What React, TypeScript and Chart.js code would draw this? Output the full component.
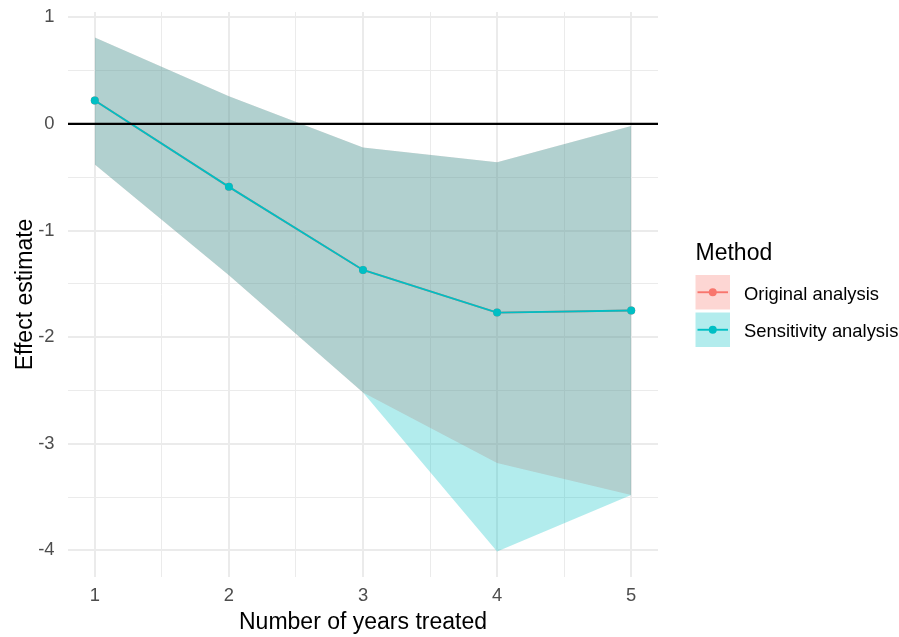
import React, { useEffect, useRef } from "react";
import { Chart, registerables } from "chart.js";

Chart.register(...registerables);

const FONT = "'Liberation Sans', Arial, Helvetica, sans-serif";

// ---- data ----
const years = [1, 2, 3, 4, 5];
const methods = ["Original analysis", "Sensitivity analysis"];
const originalEstimate = [0.22, -0.59, -1.37, -1.77, -1.75];
const originalLower = [-0.38, -1.42, -2.52, -3.18, -3.48];
const originalUpper = [0.81, 0.26, -0.22, -0.36, -0.02];
const sensitivityEstimate = [0.22, -0.59, -1.37, -1.77, -1.75];
const sensitivityLower = [-0.38, -1.42, -2.52, -4.01, -3.48];
const sensitivityUpper = [0.81, 0.26, -0.22, -0.36, -0.02];
const xTicks = [1, 1.5, 2, 2.5, 3, 3.5, 4, 4.5, 5];
const yTicks = [-4, -3.5, -3, -2.5, -2, -1.5, -1, -0.5, 0, 0.5, 1];
const referenceValue = 0;

// ---- styles ----
const lineColors = ["#F8766D", "#00BFC4"];
const ribbonColors = ["rgba(248,118,109,0.3)", "rgba(0,191,196,0.3)"];

const pts = (ys: number[]) => years.map((x, i) => ({ x, y: ys[i] }));

const ribbon = (ys: number[], color: string, fill: any, order: number) => ({
  data: pts(ys),
  borderColor: "transparent",
  borderWidth: 0,
  backgroundColor: color,
  pointRadius: 0,
  pointHoverRadius: 0,
  fill,
  order,
  tension: 0,
});

const lineDs = (ys: number[], color: string, order: number) => ({
  data: pts(ys),
  borderColor: color,
  borderWidth: 1.9,
  backgroundColor: color,
  pointBackgroundColor: color,
  pointBorderWidth: 0,
  pointRadius: 4,
  fill: false,
  order,
  tension: 0,
});

const refLinePlugin = {
  id: "refLine",
  afterDatasetsDraw(chart: any) {
    const { ctx, chartArea, scales } = chart;
    const y = scales.y.getPixelForValue(referenceValue);
    ctx.save();
    ctx.strokeStyle = "#000000";
    ctx.lineWidth = 2.2;
    ctx.beginPath();
    ctx.moveTo(chartArea.left, y);
    ctx.lineTo(chartArea.right, y);
    ctx.stroke();
    ctx.restore();
  },
};

const legendPlugin = {
  id: "methodLegend",
  afterDraw(chart: any) {
    const ctx = chart.ctx;
    const left = 695.5;
    const keySize = 34.5;
    const firstTop = 275;
    const step = 37.5;
    ctx.save();
    ctx.fillStyle = "#000000";
    ctx.font = `23px ${FONT}`;
    ctx.textAlign = "left";
    ctx.textBaseline = "alphabetic";
    ctx.fillText("Method", left, 260);
    methods.forEach((m, i) => {
      const top = firstTop + i * step;
      const cy = top + keySize / 2;
      ctx.fillStyle = ribbonColors[i];
      ctx.fillRect(left, top, keySize, keySize);
      ctx.strokeStyle = lineColors[i];
      ctx.lineWidth = 1.9;
      ctx.beginPath();
      ctx.moveTo(left + 2, cy);
      ctx.lineTo(left + keySize - 2, cy);
      ctx.stroke();
      ctx.fillStyle = lineColors[i];
      ctx.beginPath();
      ctx.arc(left + keySize / 2, cy, 4, 0, Math.PI * 2);
      ctx.fill();
      ctx.fillStyle = "#000000";
      ctx.font = `18.4px ${FONT}`;
      ctx.fillText(m, 744, cy + 7.6);
    });
    ctx.restore();
  },
};

export default function App() {
  const ref = useRef<HTMLCanvasElement | null>(null);
  useEffect(() => {
    if (!ref.current) return;
    Chart.defaults.font.family = FONT;
    const chart = new Chart(ref.current, {
      type: "line",
      data: {
        datasets: [
          ribbon(originalLower, ribbonColors[0], false, 3) as any,
          ribbon(originalUpper, ribbonColors[0], "-1", 3) as any,
          ribbon(sensitivityLower, ribbonColors[1], false, 2) as any,
          ribbon(sensitivityUpper, ribbonColors[1], "-1", 2) as any,
          { ...lineDs(originalEstimate, lineColors[0], 1), label: methods[0] } as any,
          { ...lineDs(sensitivityEstimate, lineColors[1], 0), label: methods[1] } as any,
        ],
      },
      options: {
        animation: false,
        responsive: false,
        maintainAspectRatio: false,
        events: [],
        layout: { padding: { top: 12, right: 241, left: 0, bottom: 0 } },
        plugins: {
          legend: { display: false },
          tooltip: { enabled: false },
          filler: { propagate: false },
        },
        scales: {
          x: {
            type: "linear",
            min: 0.8,
            max: 5.2,
            afterBuildTicks: (s: any) => {
              s.ticks = xTicks.map((v) => ({ value: v }));
            },
            afterFit: (s: any) => {
              s.height = 60;
              s.paddingLeft = 0;
              s.paddingRight = 0;
            },
            border: { display: false },
            grid: {
              color: "#EBEBEB",
              lineWidth: (c: any) => (Number.isInteger(c.tick?.value) ? 2 : 1),
              drawTicks: false,
            },
            ticks: {
              autoSkip: false,
              maxRotation: 0,
              padding: 8,
              color: "#4D4D4D",
              font: { size: 18.4, family: FONT },
              callback: (v: any) => (Number.isInteger(v) ? String(v) : ""),
            },
            title: {
              display: true,
              text: "Number of years treated",
              color: "#000000",
              font: { size: 23, family: FONT },
              padding: { top: 0, bottom: 1 },
            },
          },
          y: {
            type: "linear",
            min: -4.25,
            max: 1.05,
            afterBuildTicks: (s: any) => {
              s.ticks = yTicks.map((v) => ({ value: v }));
            },
            afterFit: (s: any) => {
              s.width = 68;
              s.paddingTop = 0;
              s.paddingBottom = 0;
            },
            border: { display: false },
            grid: {
              color: "#EBEBEB",
              lineWidth: (c: any) => (Number.isInteger(c.tick?.value) ? 2 : 1),
              drawTicks: false,
            },
            ticks: {
              autoSkip: false,
              padding: 13.5,
              color: "#4D4D4D",
              font: { size: 18.4, family: FONT },
              callback: (v: any) => (Number.isInteger(v) ? String(v) : ""),
            },
            title: {
              display: true,
              text: "Effect estimate",
              color: "#000000",
              font: { size: 23, family: FONT },
              padding: { top: 12, bottom: 0 },
            },
          },
        },
      },
      plugins: [refLinePlugin, legendPlugin],
    });
    return () => chart.destroy();
  }, []);
  return (
    <div style={{ position: "fixed", left: 0, top: 0, width: 899, height: 637, background: "#ffffff" }}>
      <canvas ref={ref} width={899} height={637} style={{ display: "block" }} />
    </div>
  );
}
